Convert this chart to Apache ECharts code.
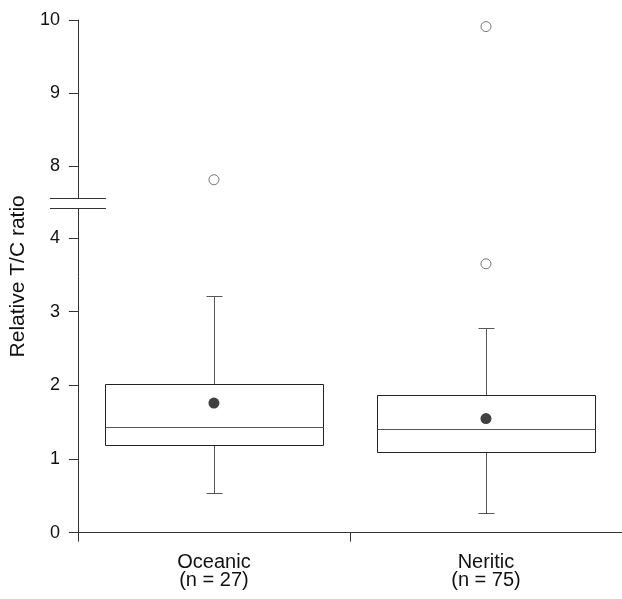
<!DOCTYPE html>
<html>
<head>
<meta charset="utf-8">
<script src="https://cdn.jsdelivr.net/npm/echarts@6/dist/echarts.min.js"></script>
<style>
html,body{margin:0;padding:0;background:#fff;}
#chart{width:622px;height:599px;}
</style>
</head>
<body>
<div id="chart"></div>
<script>
// ---- data ----
var categories = ['Oceanic\n(n = 27)', 'Neritic\n(n = 75)'];
var lowWhisker = [0.54, 0.27];
var q1 = [1.19, 1.10];
var median = [1.43, 1.41];
var q3 = [2.02, 1.87];
var highWhisker = [3.22, 2.78];
var means = [1.76, 1.55];
var outlierCat = [0, 1, 1];
var outlierVal = [7.81, 9.91, 3.65];
var yTickValues = [0, 1, 2, 3, 4, 8, 9, 10];

// broken axis: values above the break are shifted down
var BREAK_FROM = 8, BREAK_TO = 4.98, UPPER_SCALE = 0.99;
function toDisp(v) { return v <= 4.5 ? v : BREAK_TO + (v - BREAK_FROM) * UPPER_SCALE; }
function fromDisp(d) { return d <= 4.5 ? d : BREAK_FROM + (d - BREAK_TO) / UPPER_SCALE; }

var FONT = '"Liberation Sans", Arial, Helvetica, sans-serif';
var tickDisp = yTickValues.map(toDisp);

var boxData = categories.map(function (c, i) {
  return [i, toDisp(lowWhisker[i]), toDisp(q1[i]), toDisp(median[i]), toDisp(q3[i]), toDisp(highWhisker[i])];
});
var meanData = means.map(function (m, i) { return [i, toDisp(m)]; });
var outlierData = outlierVal.map(function (v, i) { return [outlierCat[i], toDisp(v)]; });

function px(v) { return Math.round(v) + 0.5; }

var chart = echarts.init(document.getElementById('chart'), null, { renderer: 'canvas' });
var option = {
  animation: false,
  backgroundColor: '#fff',
  grid: { left: 75, top: 20, width: 551.4, height: 512.7 },
  xAxis: {
    type: 'category',
    data: categories,
    boundaryGap: true,
    axisLine: { lineStyle: { color: '#333', width: 1 } },
    axisTick: { show: true, length: 9, lineStyle: { color: '#333' } },
    axisLabel: { color: '#111', fontFamily: FONT, fontSize: 20, lineHeight: 18.5, margin: 20.5 },
    splitLine: { show: false }
  },
  yAxis: {
    type: 'value',
    min: 0,
    max: toDisp(10),
    name: 'Relative T/C ratio',
    nameLocation: 'middle',
    nameRotate: 90,
    nameGap: 43,
    nameTextStyle: { color: '#111', fontFamily: FONT, fontSize: 21 },
    axisLine: { show: true, lineStyle: { color: '#333', width: 1 } },
    axisTick: { show: true, length: 9, customValues: tickDisp, lineStyle: { color: '#333' } },
    axisLabel: {
      show: true, customValues: tickDisp, color: '#111', fontFamily: FONT, fontSize: 18, margin: 18,
      formatter: function (v) { return String(Math.round(fromDisp(v))); }
    },
    splitLine: { show: false }
  },
  series: [
    {
      type: 'custom',
      name: 'box',
      data: boxData,
      encode: { x: 0, y: [1, 2, 3, 4, 5] },
      renderItem: function (params, api) {
        var idx = api.value(0);
        var pLow = api.coord([idx, api.value(1)]);
        var pQ1 = api.coord([idx, api.value(2)]);
        var pMed = api.coord([idx, api.value(3)]);
        var pQ3 = api.coord([idx, api.value(4)]);
        var pHigh = api.coord([idx, api.value(5)]);
        var bw = api.size([1, 0])[0] * 0.8;
        var cx = px(pMed[0]);
        var x0 = px(pMed[0] - bw / 2), x1 = px(pMed[0] + bw / 2);
        var capHalf = 8;
        var wStyle = { stroke: '#555', lineWidth: 1 };
        return {
          type: 'group',
          children: [
            { type: 'line', shape: { x1: cx, y1: px(pHigh[1]), x2: cx, y2: px(pQ3[1]) }, style: wStyle },
            { type: 'line', shape: { x1: cx, y1: px(pQ1[1]), x2: cx, y2: px(pLow[1]) }, style: wStyle },
            { type: 'line', shape: { x1: cx - capHalf, y1: px(pHigh[1]), x2: cx + capHalf, y2: px(pHigh[1]) }, style: wStyle },
            { type: 'line', shape: { x1: cx - capHalf, y1: px(pLow[1]), x2: cx + capHalf, y2: px(pLow[1]) }, style: wStyle },
            { type: 'rect', shape: { x: x0, y: px(pQ3[1]), width: x1 - x0, height: px(pQ1[1]) - px(pQ3[1]) }, style: { stroke: '#222', lineWidth: 1, fill: '#fff' } },
            { type: 'line', shape: { x1: x0, y1: px(pMed[1]), x2: x1, y2: px(pMed[1]) }, style: wStyle }
          ]
        };
      },
      z: 2
    },
    {
      type: 'scatter',
      name: 'mean',
      data: meanData,
      symbol: 'circle',
      symbolSize: 11,
      itemStyle: { color: '#111' },
      z: 3
    },
    {
      type: 'scatter',
      name: 'outliers',
      data: outlierData,
      symbol: 'circle',
      symbolSize: 10,
      itemStyle: { color: '#fff', borderColor: '#555', borderWidth: 1 },
      z: 3
    }
  ]
};
chart.setOption(option);

// break marks on the y axis, positioned through the axis scale
var BREAK_LOW = 4.404, BREAK_HIGH = 4.54;
var yHigh = chart.convertToPixel({ yAxisIndex: 0 }, BREAK_HIGH);
var yLow = chart.convertToPixel({ yAxisIndex: 0 }, BREAK_LOW);
var axisX = chart.convertToPixel({ xAxisIndex: 0 }, 0) - chart.getModel().getComponent('xAxis', 0).axis.getBandWidth() / 2;
chart.setOption({
  graphic: [
    { type: 'rect', shape: { x: axisX - 5, y: px(yHigh) + 0.5, width: 10, height: px(yLow) - px(yHigh) - 1 }, style: { fill: '#fff' }, z: 100 },
    { type: 'line', shape: { x1: axisX - 28, y1: px(yHigh), x2: axisX + 28, y2: px(yHigh) }, style: { stroke: '#333', lineWidth: 1 }, z: 101 },
    { type: 'line', shape: { x1: axisX - 28, y1: px(yLow), x2: axisX + 28, y2: px(yLow) }, style: { stroke: '#333', lineWidth: 1 }, z: 101 }
  ]
});
</script>
</body>
</html>
